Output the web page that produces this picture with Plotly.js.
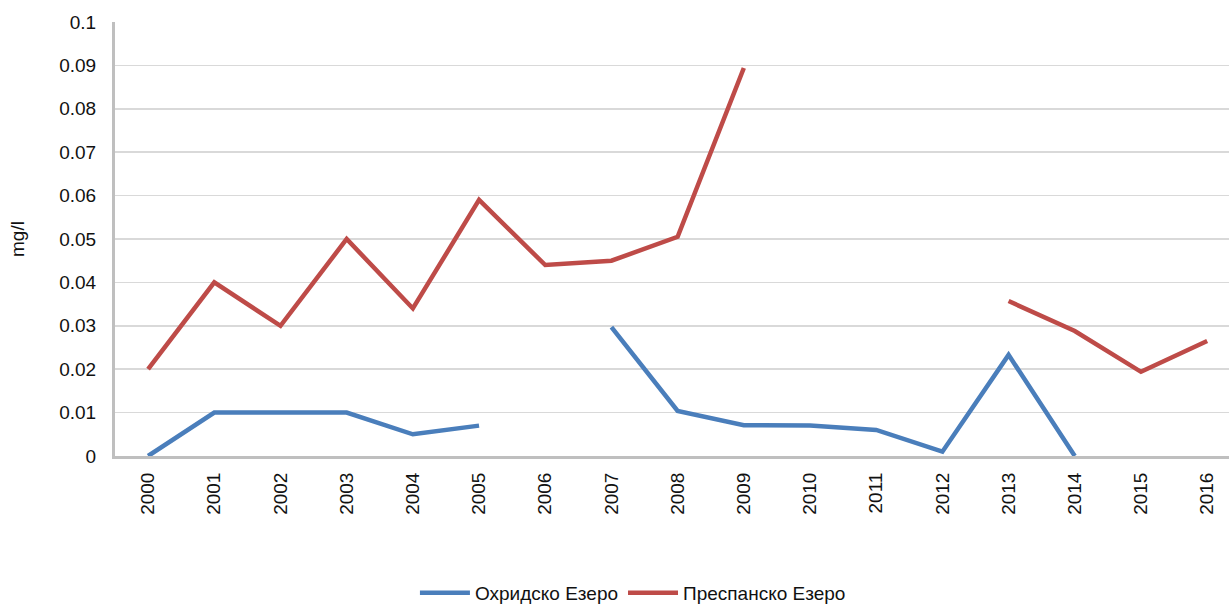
<!DOCTYPE html>
<html>
<head>
<meta charset="utf-8">
<script src="https://cdn.plot.ly/plotly-3.0.1.min.js"></script>
<style>html,body{margin:0;padding:0;background:#fff;}#chart{width:1229px;height:605px;}</style>
</head>
<body>
<div id="chart"></div>
<script>
const years = ['2000','2001','2002','2003','2004','2005','2006','2007','2008','2009','2010','2011','2012','2013','2014','2015','2016'];
const ohrid = [0, 0.01, 0.01, 0.01, 0.005, 0.007, null, 0.0297, 0.0104, 0.0071, 0.007, 0.006, 0.001, 0.0233, 0, null, null];
const prespa = [0.02, 0.04, 0.03, 0.05, 0.034, 0.059, 0.044, 0.045, 0.0505, 0.0894, null, null, null, 0.0357, 0.0288, 0.0194, 0.0265];
const seriesNames = ['Охридско Езеро', 'Преспанско Езеро'];

const font = 'Liberation Sans, Arial, sans-serif';
const traces = [
  {x: years, y: ohrid, name: seriesNames[0], type: 'scatter', mode: 'lines', connectgaps: false,
   line: {color: '#4a7ebb', width: 4.5}},
  {x: years, y: prespa, name: seriesNames[1], type: 'scatter', mode: 'lines', connectgaps: false,
   line: {color: '#be4b48', width: 4.5}}
];
const layout = {
  width: 1229, height: 605,
  margin: {l: 115, r: 0, t: 22, b: 149},
  paper_bgcolor: '#fff', plot_bgcolor: '#fff',
  font: {family: font, size: 19, color: '#111'},
  showlegend: true,
  legend: {orientation: 'h', xref: 'container', yref: 'container', x: 0.515, xanchor: 'center', y: 0.02, yanchor: 'middle',
    font: {size: 19, color: '#111'}, itemwidth: 50},
  xaxis: {
    type: 'category', range: [-0.5, 16.33], tickangle: -90,
    showgrid: false, showline: true, linecolor: '#bfbfbf', linewidth: 3,
    ticks: '', ticklabelstandoff: 6, tickfont: {size: 19}, zeroline: false
  },
  yaxis: {
    range: [0, 0.1], dtick: 0.01, tick0: 0,
    showgrid: true, gridcolor: '#d9d9d9', gridwidth: 1.5,
    showline: true, linecolor: '#bfbfbf', linewidth: 3, zeroline: false,
    ticks: '', ticklabelstandoff: 12, tickfont: {size: 19},
    title: {text: 'mg/l', font: {size: 19}, standoff: 30}
  }
};
Plotly.newPlot('chart', traces, layout, {displayModeBar: false, staticPlot: true});
</script>
</body>
</html>
